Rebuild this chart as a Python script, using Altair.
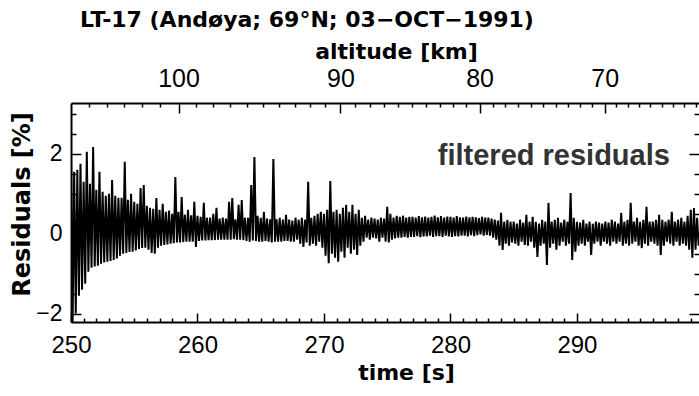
import json
import altair as alt
import pandas as pd

# ---------------- data ----------------
# upper / lower envelope of the filtered residual trace [%],
# one pair every 0.25 s starting at 250 s
T0 = 250.0
STEP = 0.25
hi = [
    1.97, 1.55, 1.60, 1.75,   # 250
    1.30, 2.05, 1.25, 2.17,   # 251
    1.10, 1.55, 1.05, 0.95,   # 252
    1.00, 1.34, 0.95, 0.90,   # 253
    0.90, 1.80, 0.85, 1.00,   # 254
    0.80, 0.75, 1.14, 1.22,   # 255
    0.70, 0.65, 0.62, 0.89,   # 256
    0.60, 0.75, 0.55, 0.58,   # 257
    0.50, 1.42, 0.55, 0.92,   # 258
    0.48, 0.60, 0.46, 0.80,   # 259
    0.45, 0.42, 0.77, 0.40,   # 260
    0.40, 0.50, 0.65, 0.38,   # 261
    0.40, 0.38, 0.80, 0.89,   # 262
    0.36, 0.72, 0.84, 0.40,   # 263
    0.40, 1.22, 1.92, 0.45,   # 264
    0.40, 0.55, 0.38, 0.36,   # 265
    1.87, 0.36, 0.40, 0.35,   # 266
    0.47, 0.35, 0.33, 0.40,   # 267
    0.35, 0.40, 0.35, 1.30,   # 268
    0.40, 0.45, 0.50, 0.55,   # 269
    0.50, 0.60, 1.32, 0.55,   # 270
    0.60, 0.50, 0.65, 0.72,   # 271
    0.55, 0.72, 0.50, 0.60,   # 272
    0.40, 0.45, 0.35, 0.40,   # 273
    0.38, 0.35, 0.40, 0.38,   # 274
    0.67, 0.50, 0.40, 0.45,   # 275
    0.42, 0.45, 0.40, 0.42,   # 276
    0.42, 0.40, 0.44, 0.41,   # 277
    0.43, 0.40, 0.42, 0.45,   # 278
    0.41, 0.44, 0.40, 0.43,   # 279
    0.42, 0.40, 0.44, 0.41,   # 280
    0.40, 0.43, 0.41, 0.42,   # 281
    0.41, 0.39, 0.42, 0.40,   # 282
    0.40, 0.38, 0.35, 0.33,   # 283
    0.52, 0.30, 0.35, 0.30,   # 284
    0.30, 0.25, 0.35, 0.28,   # 285
    0.47, 0.30, 0.42, 0.30,   # 286
    0.25, 0.35, 0.30, 0.77,   # 287
    0.30, 0.35, 0.40, 0.28,   # 288
    0.35, 0.30, 1.02, 0.40,   # 289
    0.30, 0.28, 0.35, 0.25,   # 290
    0.30, 0.25, 0.30, 0.28,   # 291
    0.25, 0.30, 0.28, 0.35,   # 292
    0.30, 0.25, 0.52, 0.30,   # 293
    0.35, 0.77, 0.30, 0.40,   # 294
    0.30, 0.35, 0.67, 0.30,   # 295
    0.30, 0.35, 0.47, 0.35,   # 296
    0.30, 0.35, 0.55, 0.30,   # 297
    0.35, 0.40, 0.30, 0.45,   # 298
    0.60, 0.64, 0.40,         # 299
]
lo = [
    -2.30, -2.00, -1.55, -1.40,   # 250
    -1.25, -0.95, -0.85, -0.82,   # 251
    -0.80, -0.75, -0.72, -0.70,   # 252
    -0.68, -0.66, -0.62, -0.55,   # 253
    -0.50, -0.48, -0.46, -0.45,   # 254
    -0.42, -0.38, -0.36, -0.35,   # 255
    -0.40, -0.48, -0.50, -0.35,   # 256
    -0.30, -0.28, -0.27, -0.25,   # 257
    -0.24, -0.22, -0.22, -0.21,   # 258
    -0.20, -0.20, -0.20, -0.33,   # 259
    -0.18, -0.17, -0.17, -0.16,   # 260
    -0.16, -0.16, -0.15, -0.15,   # 261
    -0.15, -0.15, -0.15, -0.14,   # 262
    -0.15, -0.15, -0.16, -0.18,   # 263
    -0.20, -0.17, -0.18, -0.20,   # 264
    -0.20, -0.18, -0.20, -0.22,   # 265
    -0.20, -0.20, -0.20, -0.18,   # 266
    -0.18, -0.20, -0.20, -0.15,   # 267
    -0.25, -0.33, -0.22, -0.30,   # 268
    -0.25, -0.30, -0.20, -0.35,   # 269
    -0.55, -0.74, -0.50, -0.60,   # 270
    -0.70, -0.45, -0.60, -0.35,   # 271
    -0.50, -0.40, -0.53, -0.30,   # 272
    -0.20, -0.10, -0.15, -0.10,   # 273
    -0.12, -0.20, -0.10, -0.20,   # 274
    -0.22, -0.15, -0.12, -0.10,   # 275
    -0.10, -0.08, -0.10, -0.08,   # 276
    -0.08, -0.06, -0.09, -0.07,   # 277
    -0.07, -0.05, -0.08, -0.06,   # 278
    -0.06, -0.08, -0.05, -0.07,   # 279
    -0.08, -0.06, -0.07, -0.05,   # 280
    -0.05, -0.07, -0.04, -0.06,   # 281
    -0.04, -0.02, -0.05, -0.03,   # 282
    -0.05, -0.10, -0.15, -0.30,   # 283
    -0.41, -0.25, -0.30, -0.22,   # 284
    -0.25, -0.30, -0.20, -0.28,   # 285
    -0.30, -0.20, -0.35, -0.58,   # 286
    -0.30, -0.25, -0.78, -0.35,   # 287
    -0.25, -0.40, -0.30, -0.20,   # 288
    -0.30, -0.25, -0.66, -0.45,   # 289
    -0.30, -0.25, -0.30, -0.20,   # 290
    -0.53, -0.25, -0.20, -0.30,   # 291
    -0.20, -0.25, -0.30, -0.20,   # 292
    -0.25, -0.20, -0.30, -0.25,   # 293
    -0.30, -0.25, -0.20, -0.30,   # 294
    -0.36, -0.25, -0.30, -0.20,   # 295
    -0.25, -0.30, -0.53, -0.30,   # 296
    -0.20, -0.25, -0.30, -0.20,   # 297
    -0.30, -0.25, -0.30, -0.40,   # 298
    -0.60, -0.40, -0.30,          # 299
]

# time axis ticks (s)
time_ticks = list(range(250, 300))
# altitude axis: flight time [s] at which each whole km is passed
alt_km = [105, 104, 103, 102, 101, 100, 99, 98, 97, 96, 95, 94, 93, 92, 91, 90,
          89, 88, 87, 86, 85, 84, 83, 82, 81, 80, 79, 78, 77, 76, 75, 74, 73,
          72, 71, 70, 69, 68, 67, 66, 65, 64, 63, 62]
alt_t = [251.4, 252.85, 254.2, 255.6, 257.05, 258.5, 259.9, 261.25, 262.6,
         263.9, 265.2, 266.45, 267.7, 268.9, 270.1, 271.3, 272.45, 273.6,
         274.75, 275.85, 276.95, 278.05, 279.15, 280.2, 281.25, 282.3, 283.35,
         284.35, 285.35, 286.35, 287.35, 288.35, 289.3, 290.25, 291.2, 292.2,
         293.1, 294.0, 294.9, 295.8, 296.7, 297.6, 298.5, 299.4]
y_ticks = [-2.0, -1.5, -1.0, -0.5, 0.0, 0.5, 1.0, 1.5, 2.0, 2.5, 3.0]

title_text = "LT-17 (Andøya; 69°N; 03−OCT−1991)"
legend_label = ["filtered residuals"]
legend_t = [279.0]
legend_v = [1.73]

# ---------------- tables ----------------
rows = []
for i, (h, l) in enumerate(zip(hi, lo)):
    t = T0 + STEP * i
    rows.append({"t": t, "v": h})
    rows.append({"t": t + STEP / 2, "v": l})
trace = pd.DataFrame(rows)
legend_df = pd.DataFrame({"t": legend_t, "v": legend_v, "label": legend_label})

major_t = [t for t, k in zip(alt_t, alt_km) if k % 10 == 0]
major_lab = [str(k) for k in alt_km if k % 10 == 0]
mt = json.dumps(major_t)
ml = json.dumps(major_lab)

xscale = alt.Scale(domain=[250, 299.65], nice=False, zero=False)
yscale = alt.Scale(domain=[-2.21, 3.27], nice=False, zero=False)

LABEL_FONT = "Liberation Sans"
TITLE_FONT = "DejaVu Sans"

bottom_axis = alt.Axis(
    orient="bottom", values=time_ticks, grid=False,
    domain=True, domainColor="black", domainWidth=2,
    ticks=True, tickColor="black", tickWidth=1.5,
    tickSize=alt.ExprRef(expr="datum.value % 10 === 0 ? -9 : -4"),
    labelExpr="datum.value % 10 === 0 ? format(datum.value, 'd') : ''",
    labelFont=LABEL_FONT, labelFontSize=24, labelColor="black",
    labelPadding=20, labelFlush=False, labelOverlap=False,
    title="time [s]", titleFont=TITLE_FONT, titleFontSize=22,
    titleFontWeight="bold", titleColor="black",
    titleX=335, titleY=57, titleAlign="center", titleBaseline="alphabetic",
)
left_axis = alt.Axis(
    orient="left", values=y_ticks, grid=False,
    domain=True, domainColor="black", domainWidth=2,
    ticks=True, tickColor="black", tickWidth=1.5,
    tickSize=alt.ExprRef(expr="datum.value % 2 === 0 ? -10 : -5"),
    labelExpr="datum.value % 2 === 0 ? format(datum.value, 'd') : ''",
    labelFont=LABEL_FONT, labelFontSize=23, labelColor="black",
    labelPadding=19, labelFlush=False, labelOverlap=False,
    title="Residuals [%]", titleFont=TITLE_FONT, titleFontSize=24,
    titleFontWeight="bold", titleColor="black",
    titleX=-49, titleY=101, titleAngle=-90, titleAlign="center",
    titleBaseline="middle",
)
right_axis = alt.Axis(
    orient="right", values=y_ticks, grid=False, domain=False,
    ticks=True, tickColor="black", tickWidth=1.5,
    tickSize=alt.ExprRef(expr="datum.value % 2 === 0 ? -10 : -5"),
    labels=False, title=None,
)
top_axis = alt.Axis(
    orient="top", values=alt_t, grid=False,
    domain=True, domainColor="black", domainWidth=2,
    ticks=True, tickColor="black", tickWidth=1.5,
    tickSize=alt.ExprRef(expr=f"indexof({mt}, datum.value) >= 0 ? -10 : -4"),
    labelExpr=f"indexof({mt}, datum.value) >= 0 ? {ml}[indexof({mt}, datum.value)] : ''",
    labelFont=LABEL_FONT, labelFontSize=25, labelColor="black",
    labelPadding=22, labelFlush=False, labelOverlap=False,
    title="altitude [km]", titleFont=TITLE_FONT, titleFontSize=22,
    titleFontWeight="bold", titleColor="black",
    titleX=325, titleY=-45, titleAlign="center", titleBaseline="alphabetic",
)

line = alt.Chart(trace).mark_line(color="black", strokeWidth=2.0, clip=True).encode(
    x=alt.X("t:Q", scale=xscale, axis=bottom_axis),
    y=alt.Y("v:Q", scale=yscale, axis=left_axis),
)

legend = alt.Chart(legend_df).mark_text(
    align="left", baseline="alphabetic", font="Liberation Sans",
    fontSize=29, fontWeight="bold", color="#333333",
).encode(
    x=alt.X("t:Q", scale=xscale, axis=top_axis),
    y=alt.Y("v:Q", scale=yscale, axis=right_axis),
    text="label:N",
)

chart = (
    alt.layer(line, legend)
    .resolve_axis(x="independent", y="independent")
    .properties(
        width=628, height=219,
        autosize=alt.AutoSizeParams(type="none"),
        padding={"left": 71, "top": 103, "right": 0, "bottom": 74},
        background="white",
        title=alt.TitleParams(
            title_text, anchor="start", frame="group", dx=9, offset=8,
            font=TITLE_FONT, fontSize=22, fontWeight="bold", color="black",
        ),
    )
    .configure_view(strokeWidth=0)
)

chart.save("out.html", embed_options={"renderer": "svg", "actions": False})
